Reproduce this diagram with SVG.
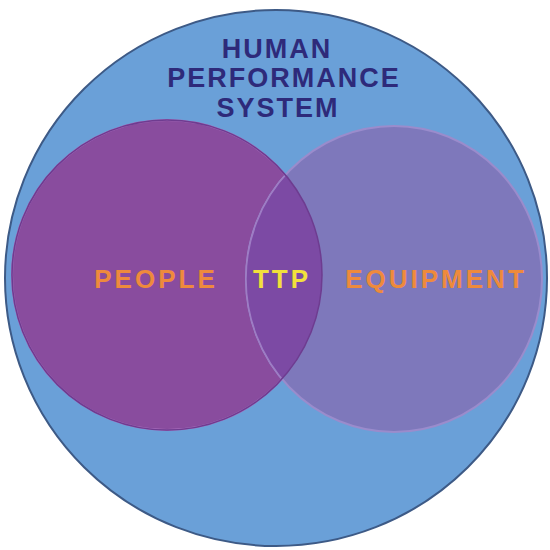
<svg xmlns="http://www.w3.org/2000/svg" width="550" height="550" viewBox="0 0 550 550">
<style>
.t{font-family:"Liberation Sans",Arial,sans-serif;font-weight:bold;text-anchor:middle}
.title{font-size:27px;fill:#2e2a7a;letter-spacing:2px}
.lbl{font-size:26px;letter-spacing:3px}
</style>
<defs>
<clipPath id="clipL"><circle cx="167" cy="275" r="155"/></clipPath>
</defs>
<rect width="550" height="550" fill="#ffffff"/>
<g id="system">
<ellipse cx="276" cy="278" rx="271" ry="268" fill="#6aa0d8" stroke="#3d5a86" stroke-width="2"/>
<text class="t title" x="277" y="58">HUMAN</text>
<text class="t title" x="284" y="87">PERFORMANCE</text>
<text class="t title" x="278" y="117">SYSTEM</text>
</g>
<g id="people">
<circle cx="167" cy="275" r="155" fill="#894c9e" stroke="#a86cbc" stroke-width="2"/>
<text class="t lbl" x="156" y="288" fill="#ee8a3c">PEOPLE</text>
</g>
<g id="equipment">
<ellipse cx="394" cy="279" rx="148" ry="153" fill="#7e78bb" stroke="#9a8ccc" stroke-width="2"/>
<ellipse cx="394" cy="279" rx="148" ry="153" fill="#7c4aa4" stroke="#9e7cc4" stroke-width="1.5" clip-path="url(#clipL)"/>
<circle cx="167" cy="275" r="155" fill="none" stroke="#6e3c90" stroke-width="1.5"/>
<text class="t lbl" x="436" y="288" fill="#ee8a3c">EQUIPMENT</text>
</g>
<g id="ttp">
<text class="t lbl" x="282" y="288" fill="#f2e03c">TTP</text>
</g>
</svg>
